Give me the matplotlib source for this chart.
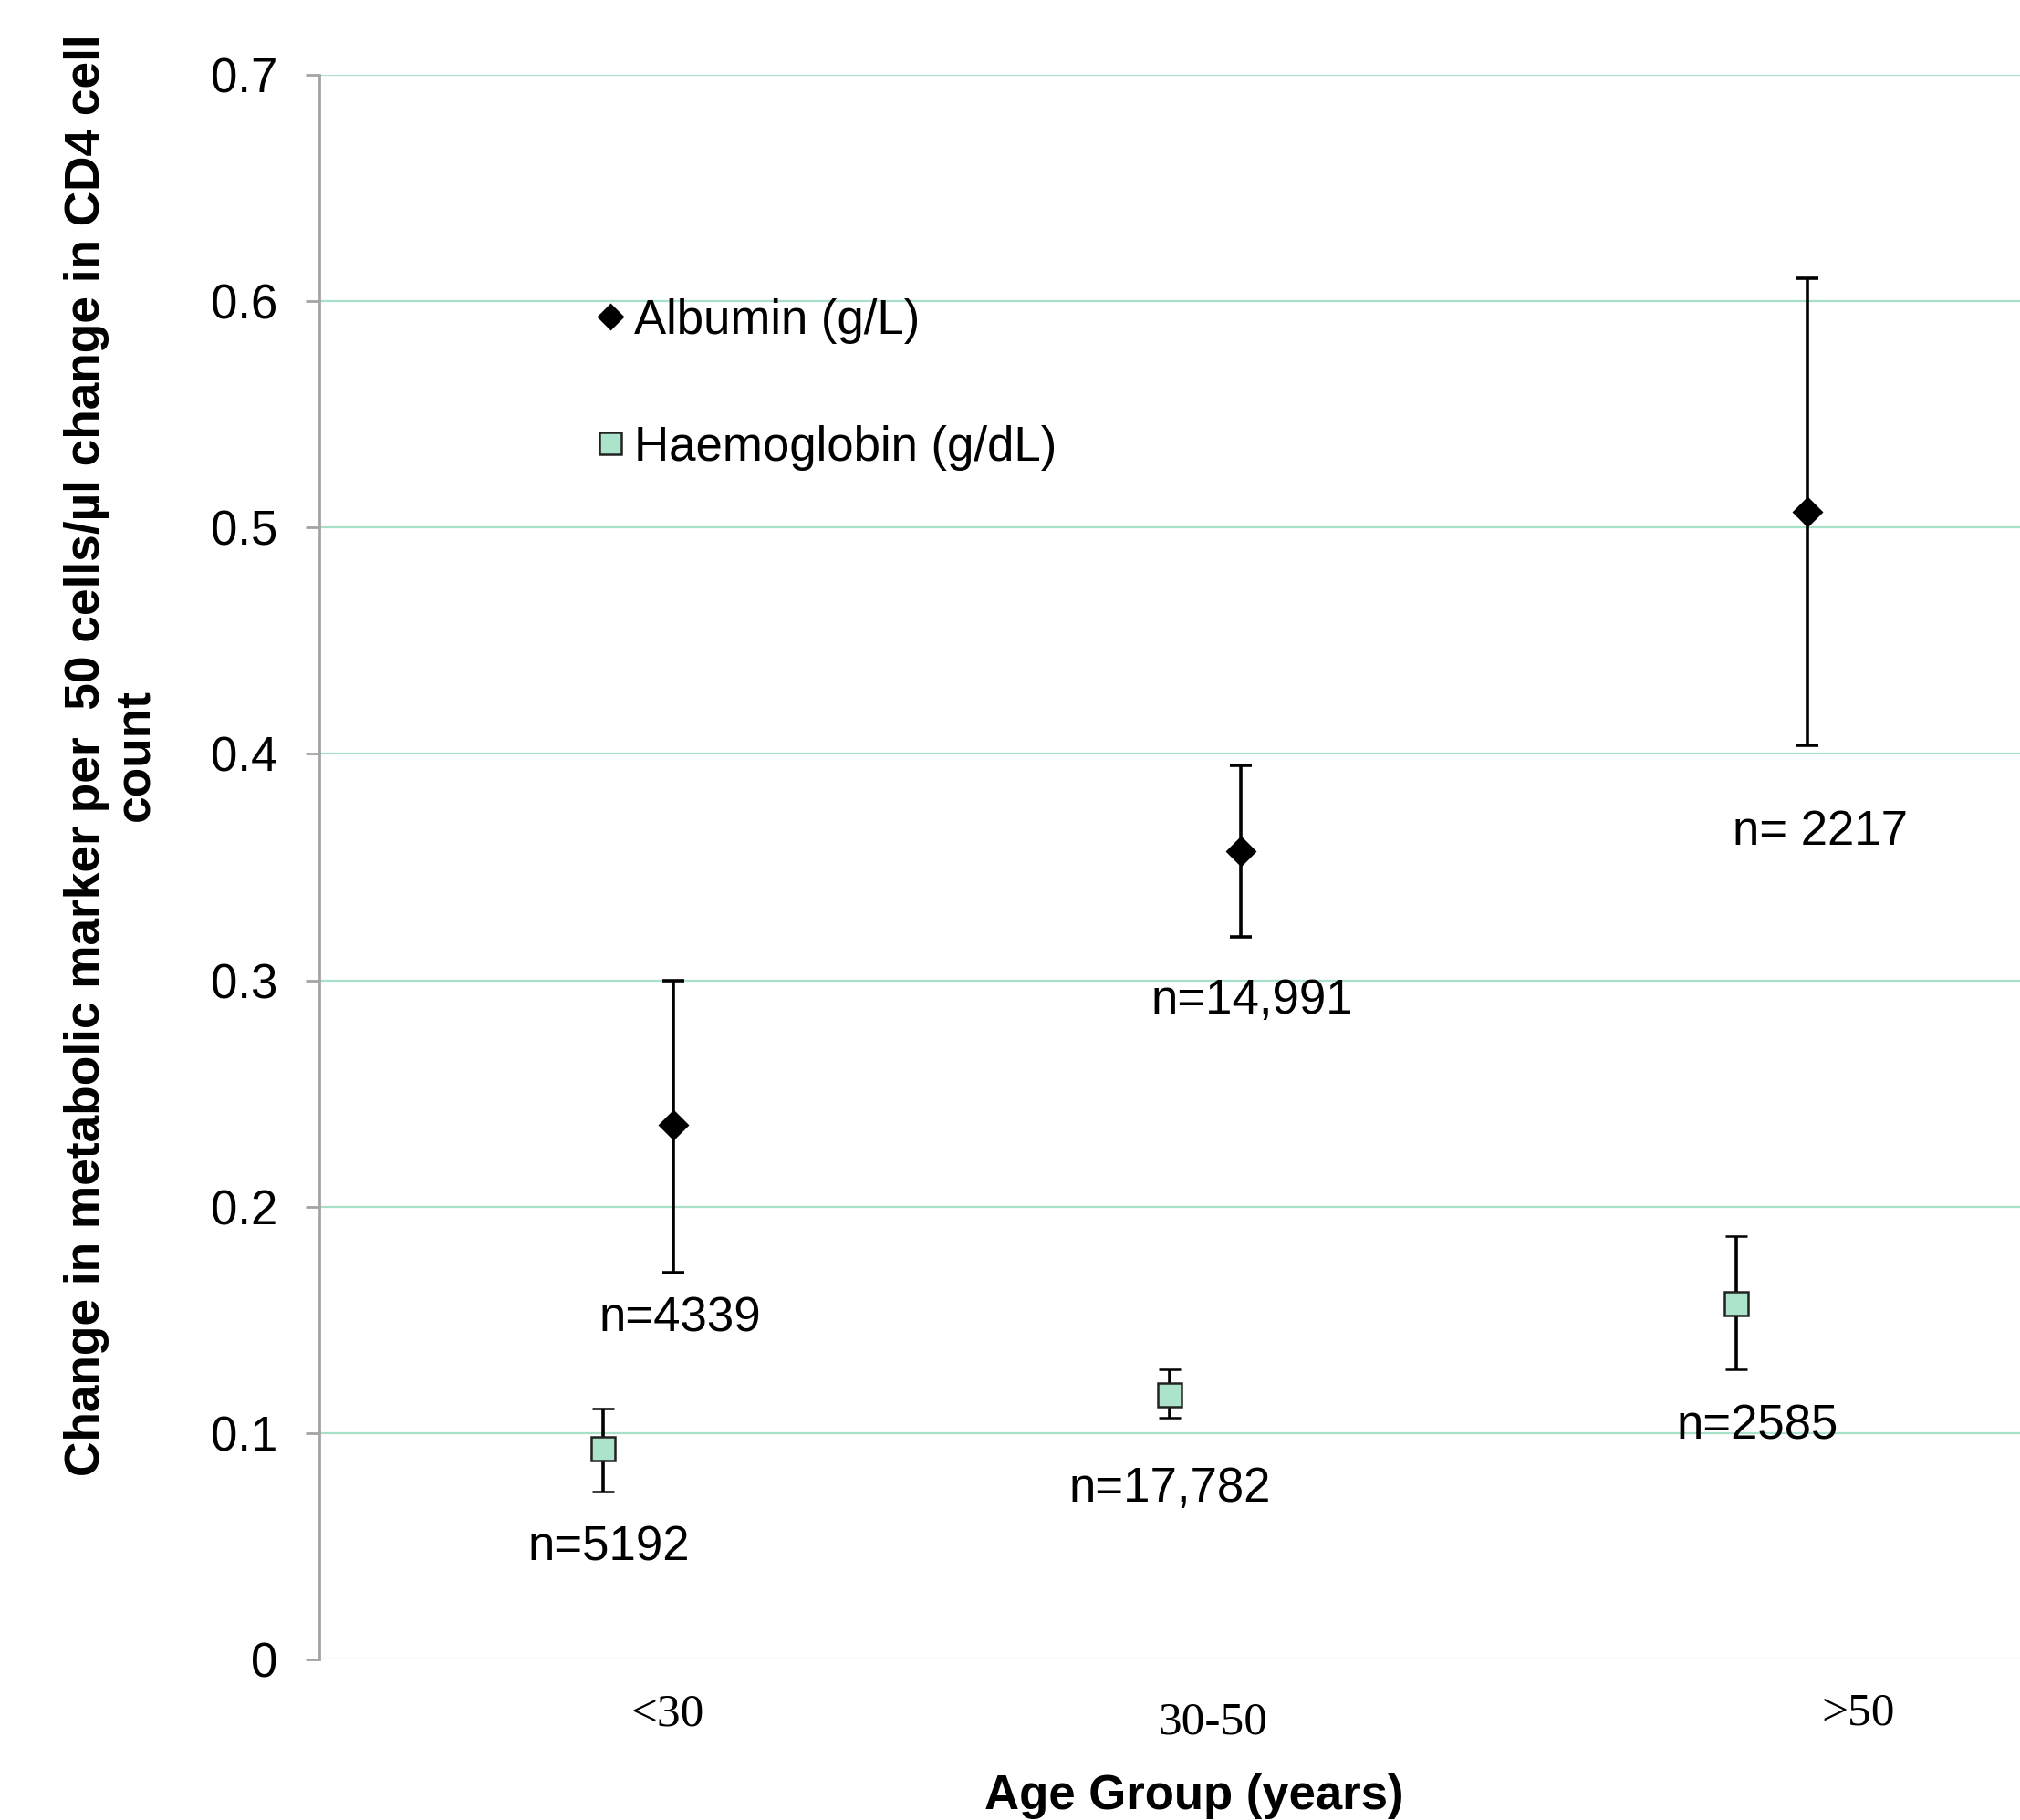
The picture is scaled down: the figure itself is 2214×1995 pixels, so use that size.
import matplotlib
matplotlib.use("Agg")
import matplotlib.pyplot as plt
import matplotlib.transforms as mtransforms

# ── data ──────────────────────────────────────────────────────────────────────
age_groups = ['<30', '30-50', '>50']
cat_pos = [1, 2, 3]

albumin = [0.236, 0.357, 0.507]
albumin_lo = [0.171, 0.319, 0.404]
albumin_hi = [0.300, 0.395, 0.610]

haemo = [0.093, 0.117, 0.157]
haemo_lo = [0.074, 0.107, 0.128]
haemo_hi = [0.111, 0.128, 0.187]

albumin_n = ['n=4339', 'n=14,991', 'n= 2217']
haemo_n = ['n=5192', 'n=17,782', 'n=2585']

# label placement (data coords)
albumin_n_x = [1.137, 2.146, 3.148]
albumin_n_y = [0.145, 0.2854, 0.360]
haemo_n_x = [1.011, 2.0, 3.037]
haemo_n_y = [0.0439, 0.0697, 0.0975]
tick_lab_x = [1.114, 2.076, 3.214]
tick_lab_y = [-0.0345, -0.0397, -0.034]   # axes fraction

albumin_shift = 0.125

# ── style ─────────────────────────────────────────────────────────────────────
plt.rcParams['font.family'] = ['Liberation Sans', 'DejaVu Sans']
GRID = '#a8e0c8'
SQUARE = '#abe3cb'
SPINE = '#a3a3a3'

fig = plt.figure(figsize=(11.07, 9.975), dpi=200)
ax = fig.add_axes([0.1581, 0.0882, 0.8419, 0.8707])

alb_x = [p + albumin_shift for p in cat_pos]
alb_err = [[a - l for a, l in zip(albumin, albumin_lo)],
           [h - a for a, h in zip(albumin, albumin_hi)]]
hae_err = [[a - l for a, l in zip(haemo, haemo_lo)],
           [h - a for a, h in zip(haemo, haemo_hi)]]

eb_alb = ax.errorbar(alb_x, albumin, yerr=alb_err, fmt='D', color='black',
                     markersize=7.4, ecolor='black', elinewidth=1.3,
                     capsize=4.3, capthick=1.3, zorder=3, label='Albumin (g/L)')
eb_hae = ax.errorbar(cat_pos, haemo, yerr=hae_err, fmt='s',
                     markerfacecolor=SQUARE, markeredgecolor='#222222',
                     markeredgewidth=0.9, markersize=9.4, ecolor='black',
                     elinewidth=1.3, capsize=4.3, capthick=1.3, zorder=3,
                     label='Haemoglobin (g/dL)')

ax.set_xlim(0.5, 3.5)
ax.set_ylim(0, 0.7)
ax.set_yticks([0, 0.1, 0.2, 0.3, 0.4, 0.5, 0.6, 0.7])
ax.set_yticklabels(['0', '0.1', '0.2', '0.3', '0.4', '0.5', '0.6', '0.7'])
ax.set_xticks([])
ax.tick_params(axis='y', labelsize=19, length=5.4, width=1.0, color=SPINE,
               pad=11, direction='out')
ax.yaxis.grid(True, color=GRID, linewidth=0.8)
ax.set_axisbelow(True)
for side in ['top', 'right', 'bottom']:
    ax.spines[side].set_visible(False)
ax.spines['left'].set_color(SPINE)
ax.spines['left'].set_linewidth(1.0)

# n labels
for x, y, t in zip(albumin_n_x, albumin_n_y, albumin_n):
    ax.text(x, y, t, ha='center', va='baseline', fontsize=19)
for x, y, t in zip(haemo_n_x, haemo_n_y, haemo_n):
    ax.text(x, y, t, ha='center', va='baseline', fontsize=19)

# category labels
trans = mtransforms.blended_transform_factory(ax.transData, ax.transAxes)
for x, y, t in zip(tick_lab_x, tick_lab_y, age_groups):
    ax.text(x, y, t, transform=trans, ha='center', va='center', fontsize=18.5,
            family='Liberation Serif', clip_on=False)

fig.text(0.591, 0.013, 'Age Group (years)', ha='center', va='center',
         fontsize=19, fontweight='bold')
fig.text(0.055, 0.585,
         'Change in metabolic marker per  50 cells/\u00b5l change in CD4 cell\ncount',
         rotation=90, ha='center', va='center', fontsize=19.2, fontweight='bold',
         linespacing=1.1, multialignment='center')

ax.legend(handles=[eb_alb[0], eb_hae[0]],
          labels=['Albumin (g/L)', 'Haemoglobin (g/dL)'],
          loc='upper left', bbox_to_anchor=(0.1626, 0.859), frameon=False,
          fontsize=19, handlelength=0.6, handletextpad=0.2, borderpad=0,
          borderaxespad=0, labelspacing=1.68, markerscale=0.92)

fig.savefig('out.png', dpi=200)
